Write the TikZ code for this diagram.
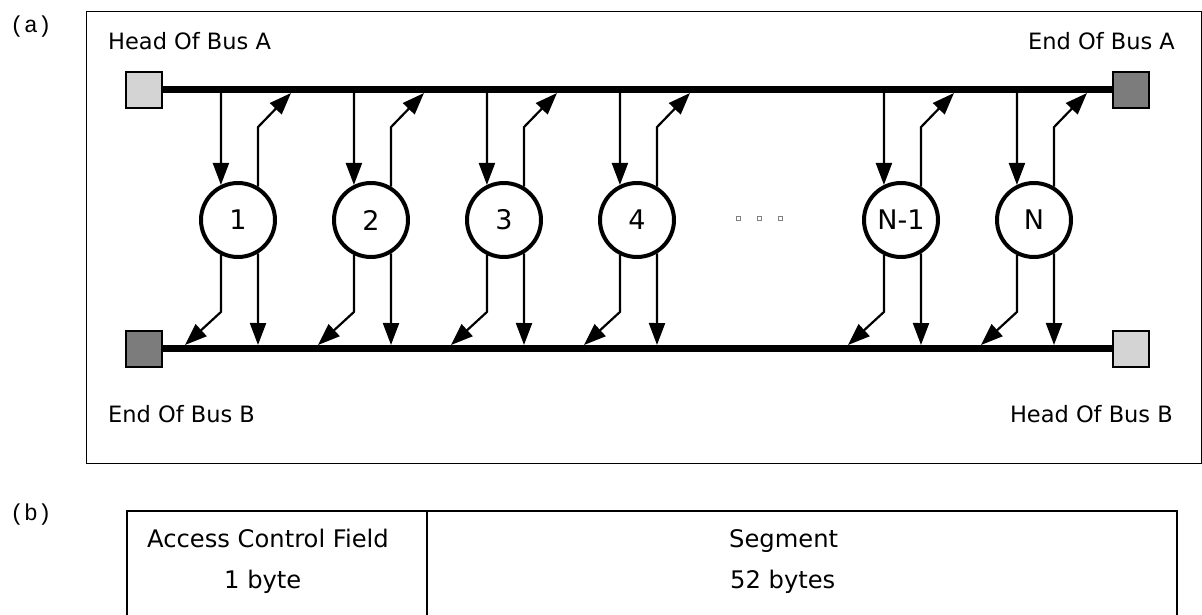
\documentclass[tikz,border=0pt]{standalone}
\usepackage{fontspec}
\setmainfont{DejaVu Sans}
\newfontfamily\monofont{Liberation Mono}
\usetikzlibrary{arrows.meta}
\definecolor{lightfill}{HTML}{D4D4D4}
\definecolor{darkfill}{HTML}{7C7C7C}
\begin{document}
\begin{tikzpicture}[x=1pt,y=-1pt,
  bus/.style={line width=7pt},
  link/.style={line width=2.2pt,-{Triangle[length=22pt,width=16pt]}},
  station/.style={circle,draw,line width=4pt,minimum size=74pt,inner sep=0pt,
    font=\fontsize{27}{30}\selectfont},
  endsq/.style={rectangle,draw,line width=2pt,minimum size=36pt,inner sep=0pt},
  dotsq/.style={rectangle,draw=gray,line width=0.8pt,minimum size=4pt,inner sep=0pt},
  lbl/.style={font=\fontsize{22.5}{26}\selectfont,inner sep=0pt},
  tbl/.style={font=\fontsize{24.2}{28}\selectfont,inner sep=0pt},
  tag/.style={font=\monofont\fontsize{23}{26}\selectfont,inner sep=0pt}]
\useasboundingbox (0,0) rectangle (1202,615);

% labels (a), (b)
\node[tag,anchor=west] (taga) at (10,27) {(a)};
\node[tag,anchor=west] (tagb) at (10,515) {(b)};

% frame (a)
\draw[line width=1pt] (86,12) rectangle (1201,463);

% end squares
\node[endsq,fill=lightfill] (headA) at (144,90) {};
\node[endsq,fill=darkfill]  (endA)  at (1130.5,90) {};
\node[endsq,fill=darkfill]  (endB)  at (144,349) {};
\node[endsq,fill=lightfill] (headB) at (1130.5,349) {};

% buses
\draw[bus] (headA.east) -- (endA.west);
\draw[bus] (endB.east |- 0,348) -- (headB.west |- 0,348);

% bus labels
\node[lbl,anchor=base west] (lha) at (108,50) {Head Of Bus A};
\node[lbl,anchor=base east] (lea) at (1175,50) {End Of Bus A};
\node[lbl,anchor=base west] (leb) at (108,422) {End Of Bus B};
\node[lbl,anchor=base east] (lhb) at (1173,422) {Head Of Bus B};

% stations
\foreach \i/\cx/\t in {1/238/1,2/371/2,3/504/3,4/637/4,5/901/N-1,6/1034/N}{
  \node[station] (n\i) at (\cx,220) {\t};
  \coordinate (ain\i)  at (\cx-17,93);
  \coordinate (aout\i) at (\cx+53,93);
  \coordinate (bout\i) at (\cx-53,345);
  \coordinate (bin\i)  at (\cx+20,345);
  \draw[link] (ain\i) -- (n\i.116);
  \draw[link] (n\i.59) -- (n\i.59 |- 0,127) -- (aout\i);
  \draw[link] (n\i.244) -- (n\i.244 |- 0,312) -- (bout\i);
  \draw[link] (n\i.-59) -- (bin\i);
}

% ellipsis squares
\node[dotsq] (d1) at (738,218) {};
\node[dotsq] (d2) at (759,218) {};
\node[dotsq] (d3) at (780,218) {};

% table (b)
\draw[line width=2pt] (127,625) -- (127,511) -- (1177,511) -- (1177,625);
\draw[line width=2pt] (427,511) -- (427,625);
\node[tbl,anchor=base west] (acf) at (147,547) {Access Control Field};
\node[tbl,anchor=base west] (ab)  at (224,588) {1 byte};
\node[tbl,anchor=base west] (seg) at (729,547) {Segment};
\node[tbl,anchor=base west] (sb)  at (730,588) {52 bytes};
\end{tikzpicture}
\end{document}
